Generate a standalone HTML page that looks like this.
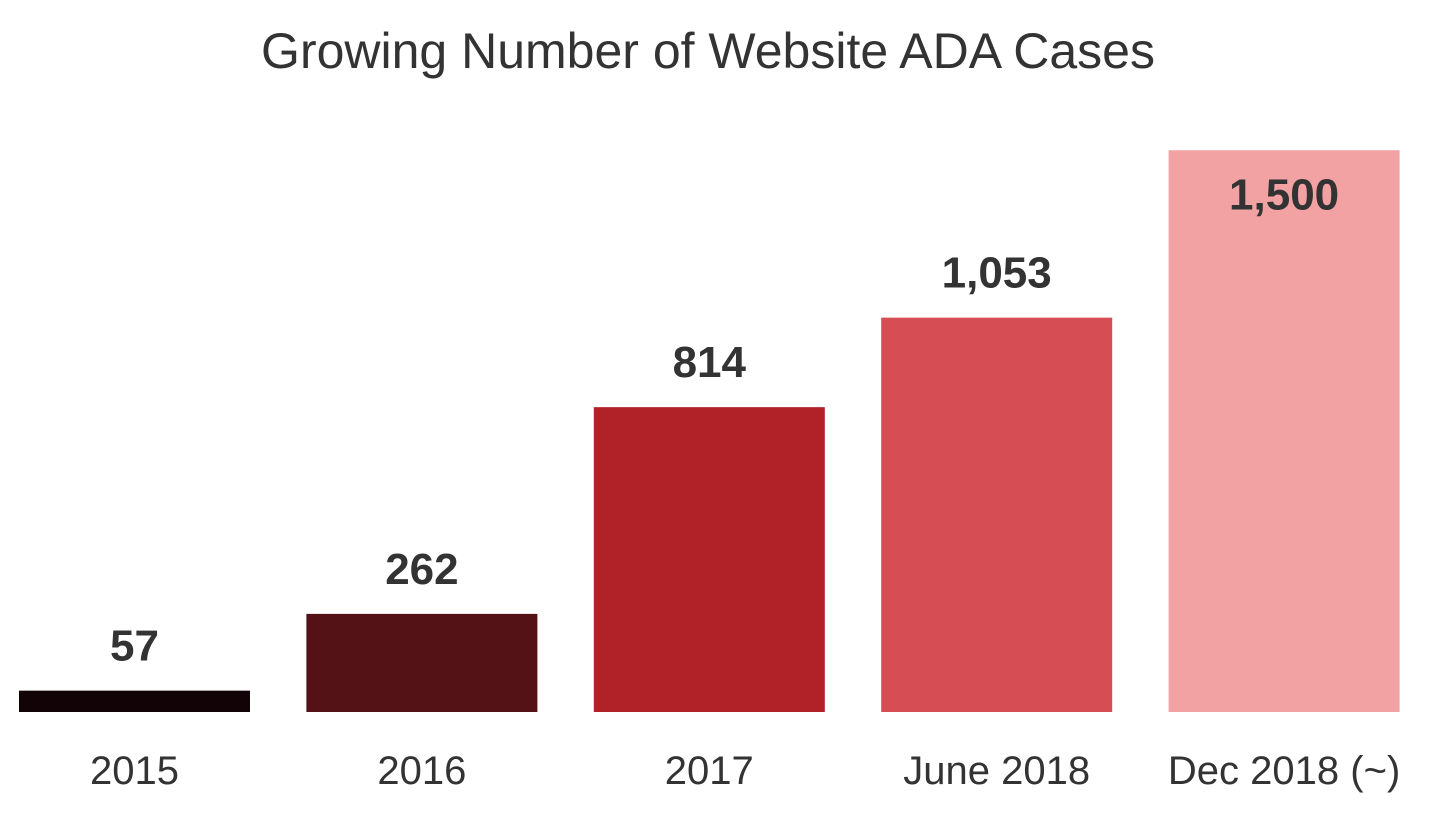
<!DOCTYPE html>
<html><head><meta charset="utf-8"><style>
html,body{margin:0;padding:0;background:#fff;}
body{width:1432px;height:815px;overflow:hidden;font-family:"Liberation Sans",sans-serif;}
</style></head><body>
<svg width="1432" height="815">
<text x="708" y="68" text-anchor="middle" font-size="50" fill="#333">Growing Number of Website ADA Cases</text>
<g id="bars"></g>
</svg>
<script>
const categories=["2015","2016","2017","June 2018","Dec 2018 (~)"];
const values=[57,262,814,1053,1500];
const valueLabels=["57","262","814","1,053","1,500"];
const colors=["#120406","#541116","#b02128","#d64e54","#f3a2a3"];
const baseY=712, scale=0.3745, x0=19, step=287.4, bw=231;
function yOf(v){return baseY-v*scale;}
function xOf(i){return x0+i*step;}
const g=document.getElementById('bars');
const NS="http://www.w3.org/2000/svg";
categories.forEach((c,i)=>{
  const v=values[i], y=yOf(v), x=xOf(i);
  const r=document.createElementNS(NS,'rect');
  r.setAttribute('x',x);r.setAttribute('y',y);r.setAttribute('width',bw);r.setAttribute('height',baseY-y);r.setAttribute('fill',colors[i]);
  
  
  g.appendChild(r);
  const t=document.createElementNS(NS,'text');
  const inside=(y<200);
  t.setAttribute('x',x+bw/2);t.setAttribute('y',inside?y+59:y-30);
  t.setAttribute('text-anchor','middle');t.setAttribute('font-size','44');t.setAttribute('font-weight','bold');t.setAttribute('fill','#333');
  t.textContent=valueLabels[i];
  
  
  g.appendChild(t);
  const l=document.createElementNS(NS,'text');
  l.setAttribute('x',x+bw/2);l.setAttribute('y',784);
  l.setAttribute('text-anchor','middle');l.setAttribute('font-size','40');l.setAttribute('fill','#333');
  l.textContent=c;
  
  
  g.appendChild(l);
});
</script>
</body></html>
